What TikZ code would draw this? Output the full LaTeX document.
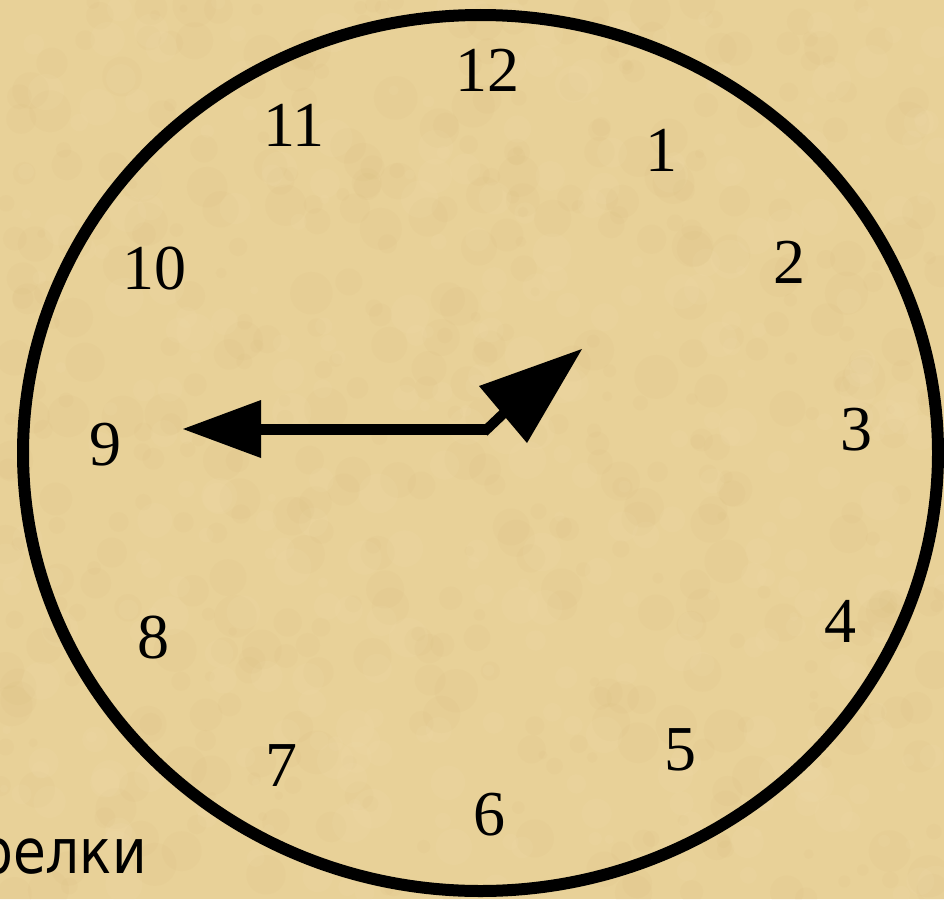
\documentclass[tikz,border=0pt]{standalone}
\usepackage{fontspec}
\setmainfont{Liberation Serif}
\newfontfamily\labelfont{DejaVu Sans}
\definecolor{parch}{RGB}{232,209,152}
\definecolor{parchdark}{RGB}{206,166,96}
\definecolor{parchlight}{RGB}{246,232,192}
\begin{document}
\begin{tikzpicture}[x=0.75pt,y=-0.75pt,
  num/.style={font=\fontsize{48}{48}\selectfont, inner sep=0pt},
  rim/.style={line width=9pt},
  minutehand/.style={line width=8.25pt},
  hourhand/.style={line width=7.5pt},
  lbl/.style={font=\labelfont\fontsize{46.5}{46.5}\selectfont, inner sep=0pt, xscale=0.86}]
\useasboundingbox (0,0) rectangle (944,899);
\fill[parch] (0,0) rectangle (944,899);
\begin{scope}
  \clip (0,0) rectangle (944,899);
  \pgfmathsetseed{11}
  \foreach \i in {1,...,500}{
    \pgfmathsetmacro\xx{rnd*944}
    \pgfmathsetmacro\yy{rnd*899}
    \pgfmathsetmacro\rr{4+rnd*18}
    \fill[parchdark, opacity=0.05] (\xx,\yy) circle[radius=\rr];
  }
  \foreach \i in {1,...,350}{
    \pgfmathsetmacro\xx{rnd*944}
    \pgfmathsetmacro\yy{rnd*899}
    \pgfmathsetmacro\rr{4+rnd*16}
    \fill[parchlight, opacity=0.08] (\xx,\yy) circle[radius=\rr];
  }
\end{scope}

% clock face
\draw[rim] (480.5,453) ellipse [x radius=457.5, y radius=438];

% numbers
\node[num] (n12) at (487,70) {12};
\node[num] (n1)  at (661,150) {1};
\node[num] (n2)  at (789,262) {2};
\node[num] (n3)  at (856,430) {3};
\node[num] (n4)  at (840,621) {4};
\node[num] (n5)  at (680,750) {5};
\node[num] (n6)  at (489,815) {6};
\node[num] (n7)  at (281,766) {7};
\node[num] (n8)  at (153,638) {8};
\node[num] (n9)  at (105,445) {9};
\node[num] (n10) at (154,269) {10};
\node[num] (n11) at (294,125) {11};

% hands
\coordinate (c) at (487,429);
\coordinate (mbase) at (261,429);
\coordinate (hbase) at (505,412);
\draw[minutehand] (c) -- (mbase);
\fill (183,429) -- (261,400) -- (261,458) -- cycle;
\draw[hourhand] (484,432) -- (hbase);
\fill (582,349) -- (479,386) -- (527,443) -- cycle;

% label cut at the left edge, as in the reference
\begin{scope}
  \clip (0,0) rectangle (944,899);
  \node[lbl, anchor=base east] (txt) at (147,873) {релки};
\end{scope}
\end{tikzpicture}
\end{document}
